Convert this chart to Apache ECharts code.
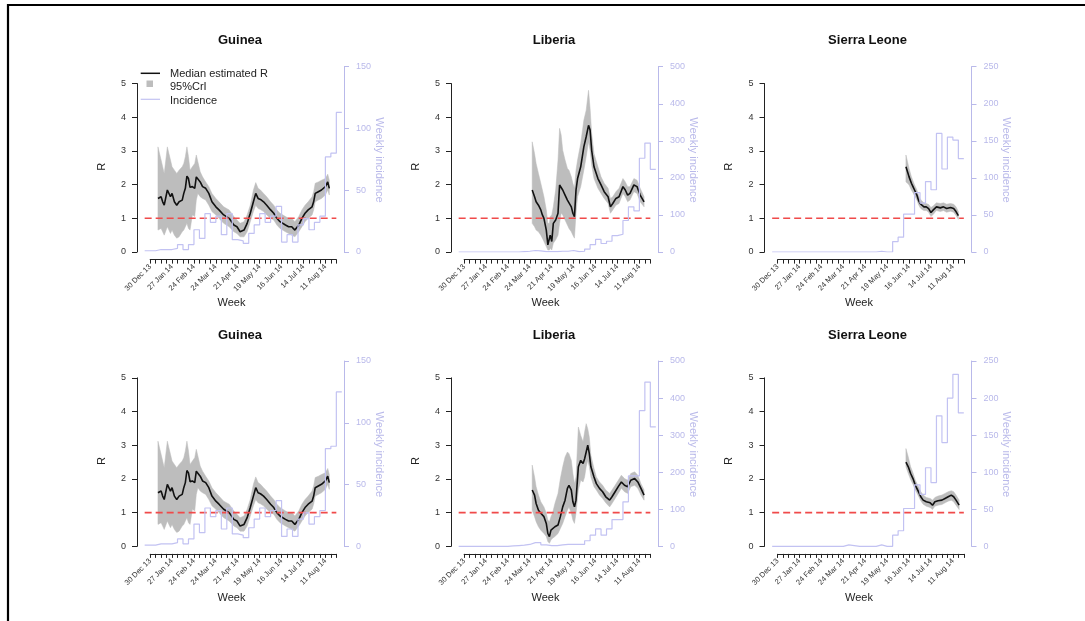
<!DOCTYPE html>
<html><head><meta charset="utf-8">
<script src="https://cdn.jsdelivr.net/npm/echarts@6/dist/echarts.min.js"></script>
<style>html,body{margin:0;padding:0;background:#fff}#c{width:1085px;height:621px}</style>
</head><body><div id="c"></div><script>
// ---------- DATA (days since 30 Dec 2013) ----------
const xTickLabels = ['30 Dec 13','27 Jan 14','24 Feb 14','24 Mar 14','21 Apr 14','19 May 14','16 Jun 14','14 Jul 14','11 Aug 14'];
const countries = ['Guinea','Liberia','Sierra Leone'];
const incFirstWeek = -7;   // first weekly incidence bin starts 23 Dec 13
const refLineDays = [-7, 238];
const refLineR = 1;

// Guinea (both rows)
const gDays = [10,14,16,18,22,24,26,28,31,34,37,41,43,45,47,49,51,54,57,59,61,64,67,71,75,79,84,88,94,101,107,111,115,120,124,128,132,135,138,141,145,149,154,158,162,166,173,177,181,185,190,194,198,202,207,209,211,215,219,224,227,229];
const gMed = [1.59,1.64,1.49,1.39,1.84,1.79,1.64,1.74,1.49,1.39,1.49,1.54,1.74,1.89,2.25,2.18,1.92,1.94,1.89,2.23,2.28,2.08,1.94,1.89,1.74,1.49,1.34,1.25,1.10,1.00,0.80,0.75,0.60,0.65,0.85,1.15,1.49,1.74,1.59,1.56,1.49,1.39,1.25,1.15,1.00,0.90,0.80,0.75,0.75,0.65,0.80,1.00,1.15,1.25,1.34,1.49,1.74,1.79,1.84,1.94,2.08,1.89];
const gUp = [3.12,2.73,2.53,2.33,3.12,2.92,2.73,2.53,2.43,2.33,2.43,2.53,2.63,2.83,3.12,2.83,2.43,2.53,2.63,2.88,2.68,2.38,2.23,2.08,1.94,1.74,1.59,1.49,1.34,1.25,1.05,0.95,0.85,0.90,1.10,1.39,1.84,2.06,1.89,1.84,1.74,1.64,1.49,1.39,1.25,1.15,1.05,1.00,1.00,0.90,1.05,1.25,1.39,1.49,1.64,1.79,2.04,2.08,2.13,2.18,2.31,2.13];
const gLo = [0.65,0.70,0.60,0.50,0.75,0.65,0.55,0.65,0.50,0.41,0.45,0.60,0.65,0.75,0.85,0.70,0.65,1.10,1.05,1.54,1.74,1.64,1.59,1.54,1.39,1.20,1.10,1.00,0.85,0.75,0.60,0.55,0.45,0.45,0.60,0.90,1.20,1.39,1.29,1.26,1.20,1.10,1.00,0.95,0.80,0.70,0.60,0.55,0.50,0.45,0.60,0.75,0.90,1.00,1.10,1.25,1.49,1.54,1.59,1.69,1.84,1.69];
const gIncTop = [1,1,2,2,2,3,6,2,6,18,11,31,24,29,14,31,10,9,7,15,22,31,24,29,37,8,14,8,22,27,18,24,29,77,80,113];
const gIncBot = [1,1,2,2,2,3,6,2,6,18,11,31,24,29,14,31,10,9,7,15,22,31,24,29,37,8,14,8,22,27,18,24,29,79,81,125];

// Liberia top
const lDays = [87,90,92,95,98,100,102,105,107,109,110,112,114,117,120,122,124,126,129,132,134,137,139,141,143,145,149,153,156,159,161,163,166,171,175,179,184,187,190,194,198,203,206,209,212,217,221,225,230];
const lMed = [1.84,1.64,1.49,1.39,1.25,1.10,1.00,0.65,0.21,0.26,0.50,0.31,0.85,0.95,1.15,1.99,2.04,1.84,1.69,1.54,1.59,1.34,1.15,1.05,1.84,2.18,2.53,3.12,3.42,3.76,3.62,3.02,2.53,2.18,1.99,1.79,1.64,1.34,1.44,1.59,1.64,1.94,1.84,1.69,1.74,1.99,1.94,1.69,1.49];
const lUp = [3.27,2.92,2.63,2.33,2.04,1.84,1.64,1.25,0.85,0.85,1.05,1.10,1.34,1.84,2.73,3.67,3.47,3.02,2.73,2.48,2.43,2.23,2.04,1.89,2.43,2.73,3.22,3.91,4.21,4.80,4.26,3.52,2.92,2.53,2.23,2.04,1.89,1.59,1.64,1.79,1.89,2.18,2.08,1.94,1.94,2.18,2.13,1.89,1.64];
const lLo = [0.85,0.75,0.65,0.60,0.50,0.41,0.31,0.16,0.06,0.06,0.11,0.06,0.26,0.36,0.50,0.85,1.15,1.10,0.95,0.80,0.70,0.60,0.50,0.41,1.15,1.64,1.94,2.43,2.83,3.27,3.02,2.58,2.18,1.89,1.74,1.59,1.44,1.15,1.25,1.39,1.44,1.74,1.64,1.49,1.54,1.79,1.74,1.49,1.34];
const lIncTop = [0,0,0,0,0,0,0,0,0,0,0,1,2,4,3,1,1,1,2,2,4,1,2,8,20,34,23,29,44,48,85,122,111,253,294,223];
// Liberia bottom
const lDays2 = [87,90,92,95,98,102,105,107,109,111,113,116,120,123,126,129,132,134,137,139,141,143,146,149,152,154,156,158,160,162,166,169,173,177,181,186,189,193,197,201,205,209,213,218,222,226,230];
const lMed2 = [1.67,1.52,1.27,1.07,0.98,0.88,0.68,0.38,0.29,0.48,0.43,0.58,0.63,0.88,1.17,1.37,1.72,1.81,1.67,1.32,1.17,1.37,2.36,2.55,2.46,2.60,2.80,3.00,2.75,2.36,2.06,1.86,1.72,1.62,1.47,1.37,1.47,1.62,1.77,1.91,1.81,1.77,1.96,2.01,1.91,1.72,1.52];
const lUp2 = [2.41,2.06,1.77,1.52,1.32,1.17,0.98,0.78,0.73,0.88,0.98,1.27,1.57,2.01,2.36,2.65,2.80,2.75,2.55,2.16,1.86,2.06,3.54,3.29,3.10,3.39,3.64,3.49,3.24,2.70,2.31,2.06,1.91,1.81,1.67,1.57,1.67,1.81,1.96,2.11,2.01,1.96,2.16,2.21,2.11,1.86,1.67];
const lLo2 = [1.07,0.88,0.73,0.58,0.48,0.38,0.29,0.14,0.09,0.19,0.24,0.29,0.38,0.53,0.68,0.88,1.07,1.17,0.98,0.78,0.68,0.98,1.67,1.96,1.91,2.06,2.36,2.55,2.36,2.06,1.77,1.67,1.52,1.42,1.29,1.17,1.27,1.42,1.57,1.72,1.62,1.57,1.77,1.81,1.72,1.52,1.37];
const lIncBot = [0,0,0,0,0,0,0,0,0,1,2,3,5,10,10,4,2,2,4,5,5,5,5,15,30,47,30,47,72,72,120,190,190,366,443,322];

// Sierra Leone top
const sDays = [164,166,168,171,173,175,178,180,182,184,187,190,193,196,199,203,208,212,216,221,225,228,231];
const sMed = [2.53,2.38,2.23,2.04,1.94,1.84,1.69,1.54,1.44,1.39,1.34,1.34,1.29,1.17,1.25,1.34,1.31,1.34,1.29,1.32,1.29,1.20,1.08];
const sUp = [2.88,2.68,2.48,2.23,2.11,1.99,1.84,1.69,1.59,1.52,1.46,1.44,1.41,1.32,1.37,1.46,1.44,1.46,1.42,1.44,1.42,1.34,1.20];
const sLo = [2.08,2.04,1.99,1.84,1.76,1.67,1.54,1.41,1.32,1.27,1.23,1.23,1.18,1.05,1.12,1.23,1.20,1.23,1.18,1.21,1.18,1.08,0.97];
const sIncTop = [0,0,0,0,0,0,0,0,0,0,0,0,0,0,0,0,0,0,0,1,0,0,14,20,51,51,80,66,95,84,160,112,155,151,126];
// Sierra Leone bottom
const sDays2 = [164,167,170,173,176,180,183,186,190,195,198,201,205,210,214,218,222,225,228,232];
const sMed2 = [2.50,2.36,2.16,2.01,1.81,1.62,1.47,1.37,1.32,1.29,1.22,1.32,1.35,1.37,1.42,1.47,1.52,1.47,1.37,1.22];
const sUp2 = [2.90,2.65,2.36,2.18,1.96,1.77,1.62,1.52,1.45,1.42,1.37,1.45,1.49,1.52,1.57,1.62,1.65,1.62,1.52,1.37];
const sLo2 = [2.36,2.16,1.98,1.84,1.67,1.49,1.35,1.25,1.19,1.15,1.09,1.19,1.22,1.24,1.29,1.34,1.37,1.32,1.22,1.09];
const sIncBot = [0,0,0,0,0,0,0,0,0,0,0,0,0,2,1,0,0,0,0,2,0,0,15,21,51,51,83,70,106,86,176,140,200,232,180];

const incMax = [150, 500, 250];
const incStep = [50, 100, 50];

// ---------- LAYOUT ----------
const FONT = '"Liberation Sans", Arial, Helvetica, sans-serif';
const colLeft = [137, 451, 764.5];
const PW = 207;
const rowTop = [66.7, 361];     // y of R = 5.5 (incidence max)
const PH = 185.3;               // R 0..5.5
const XD0 = refLineDays[0], XD1 = refLineDays[1];
const PAD = 0.04 * (XD1 - XD0);
const X0 = XD0 - PAD, X1 = XD1 + PAD;
const LAV = '#b9b9ea';
const INC_COL = '#c2c2f2';

const panels = [
  {r:0,c:0,days:gDays,med:gMed,lo:gLo,hi:gUp,inc:gIncTop},
  {r:0,c:1,days:lDays,med:lMed,lo:lLo,hi:lUp,inc:lIncTop},
  {r:0,c:2,days:sDays,med:sMed,lo:sLo,hi:sUp,inc:sIncTop},
  {r:1,c:0,days:gDays,med:gMed,lo:gLo,hi:gUp,inc:gIncBot},
  {r:1,c:1,days:lDays2,med:lMed2,lo:lLo2,hi:lUp2,inc:lIncBot},
  {r:1,c:2,days:sDays2,med:sMed2,lo:sLo2,hi:sUp2,inc:sIncBot}
];

const grid = [], xAxis = [], yAxis = [], series = [], graphic = [];
const hiddenAxis = (min, max, gi) => ({type:'value', gridIndex:gi, min:min, max:max, show:false});

panels.forEach((p, k) => {
  const L = colLeft[p.c], T = rowTop[p.r];
  const gD = 3*k, gL = 3*k+1, gX = 3*k+2;
  grid.push({left:L, top:T, width:PW, height:PH, outerBoundsMode:'none', containLabel:false});
  grid.push({left:L, top:T + PH*0.5/5.5, width:PW, height:PH*5/5.5, outerBoundsMode:'none', containLabel:false});
  const xl = L + (0 - X0)/(X1 - X0)*PW;
  const xw = (XD1 - 0)/(X1 - X0)*PW;
  grid.push({left:xl, top:T, width:xw, height:PH+7.6, outerBoundsMode:'none', containLabel:false});

  xAxis.push(hiddenAxis(X0, X1, gD));
  xAxis.push(hiddenAxis(0, 1, gL));
  xAxis.push({type:'value', gridIndex:gX, min:0, max:XD1, interval:7, position:'bottom',
    axisLine:{show:true, onZero:false, lineStyle:{color:'#222', width:1}},
    axisTick:{show:true, length:4, inside:false, lineStyle:{color:'#222', width:1}},
    splitLine:{show:false},
    axisLabel:{show:true, rotate:45, margin:6, fontSize:7.5, color:'#333', fontFamily:FONT,
      showMinLabel:true, showMaxLabel:true, hideOverlap:false,
      formatter: v => (v % 28 === 0 && xTickLabels[v/28]) ? xTickLabels[v/28] : ''}
  });

  const yR = 4*k, yInc = 4*k+1;
  yAxis.push(hiddenAxis(0, 5.5, gD));
  yAxis.push({type:'value', gridIndex:gD, position:'right', min:0, max:incMax[p.c], interval:incStep[p.c],
    axisLine:{show:true, lineStyle:{color:LAV, width:1}},
    axisTick:{show:true, length:5, lineStyle:{color:LAV}},
    splitLine:{show:false},
    axisLabel:{show:true, margin:12, fontSize:9, color:LAV, fontFamily:FONT}
  });
  yAxis.push({type:'value', gridIndex:gL, position:'left', min:0, max:5, interval:1,
    axisLine:{show:true, lineStyle:{color:'#222', width:1}},
    axisTick:{show:true, length:5, lineStyle:{color:'#222'}},
    splitLine:{show:false},
    axisLabel:{show:true, margin:11, fontSize:9, color:'#333', fontFamily:FONT}
  });
  yAxis.push(hiddenAxis(0, 1, gX));

  series.push({type:'custom', xAxisIndex:gD, yAxisIndex:yR, silent:true, z:1,
    data: p.days.map((d,i) => [d, p.lo[i], p.hi[i]]),
    encode:{x:0, y:[1,2]},
    renderItem: function(params, api){
      if (params.dataIndex !== 0) return null;
      const top = p.days.map((d,i) => api.coord([d, p.hi[i]]));
      const bot = p.days.map((d,i) => api.coord([d, p.lo[i]])).reverse();
      return {type:'polygon', shape:{points: top.concat(bot)}, style:{fill:'#bdbdbd', stroke:'#bdbdbd', lineWidth:0.5}};
    }
  });
  series.push({type:'line', xAxisIndex:gD, yAxisIndex:yR, z:3, showSymbol:false, silent:true,
    data: p.days.map((d,i) => [d, p.med[i]]),
    lineStyle:{color:'#111', width:1.6}});
  series.push({type:'line', xAxisIndex:gD, yAxisIndex:yR, z:4, showSymbol:false, silent:true,
    data: refLineDays.map(d => [d, refLineR]),
    lineStyle:{color:'#f04a4a', width:1.6, type:[7,4]}});
  const incData = p.inc.map((v,i) => [incFirstWeek + 7*i, v]);
  incData.push([incFirstWeek + 7*p.inc.length, p.inc[p.inc.length-1]]);
  series.push({type:'line', xAxisIndex:gD, yAxisIndex:yInc, z:5, step:'end', showSymbol:false, silent:true,
    data: incData, lineStyle:{color:INC_COL, width:1.2}});

  graphic.push({type:'text', x:L+103, y:T-26, style:{text:countries[p.c], font:'bold 13px '+FONT, fill:'#111', align:'center', verticalAlign:'middle'}});
  graphic.push({type:'text', x:L+94.5, y:T+PH+51.3, style:{text:'Week', font:'11px '+FONT, fill:'#222', align:'center', verticalAlign:'middle'}});
  graphic.push({type:'text', x:L-35.5, y:T+100, rotation:Math.PI/2, style:{text:'R', font:'11px '+FONT, fill:'#222', align:'center', verticalAlign:'middle'}});
  graphic.push({type:'text', x:L+PW+35, y:T+93.3, rotation:-Math.PI/2, style:{text:'Weekly incidence', font:'11px '+FONT, fill:LAV, align:'center', verticalAlign:'middle'}});
});

graphic.push({type:'line', shape:{x1:140.7, y1:73.3, x2:160, y2:73.3}, style:{stroke:'#111', lineWidth:1.5}});
graphic.push({type:'rect', shape:{x:146.5, y:80.5, width:6.5, height:6.5}, style:{fill:'#bdbdbd'}});
graphic.push({type:'line', shape:{x1:140.7, y1:99.3, x2:160, y2:99.3}, style:{stroke:INC_COL, lineWidth:1.2}});
[['Median estimated R',74],['95%CrI',87.3],['Incidence',100.5]].forEach(t => {
  graphic.push({type:'text', x:170, y:t[1], style:{text:t[0], font:'11px '+FONT, fill:'#222', align:'left', verticalAlign:'middle'}});
});
graphic.push({type:'line', shape:{x1:7, y1:5, x2:1085, y2:5}, style:{stroke:'#000', lineWidth:2}});
graphic.push({type:'line', shape:{x1:8, y1:4, x2:8, y2:621}, style:{stroke:'#000', lineWidth:2.2}});

const chart = echarts.init(document.getElementById('c'), null, {renderer:'canvas'});
chart.setOption({
  backgroundColor:'#fff',
  animation:false,
  textStyle:{fontFamily:FONT},
  grid, xAxis, yAxis, series, graphic
});
</script></body></html>
